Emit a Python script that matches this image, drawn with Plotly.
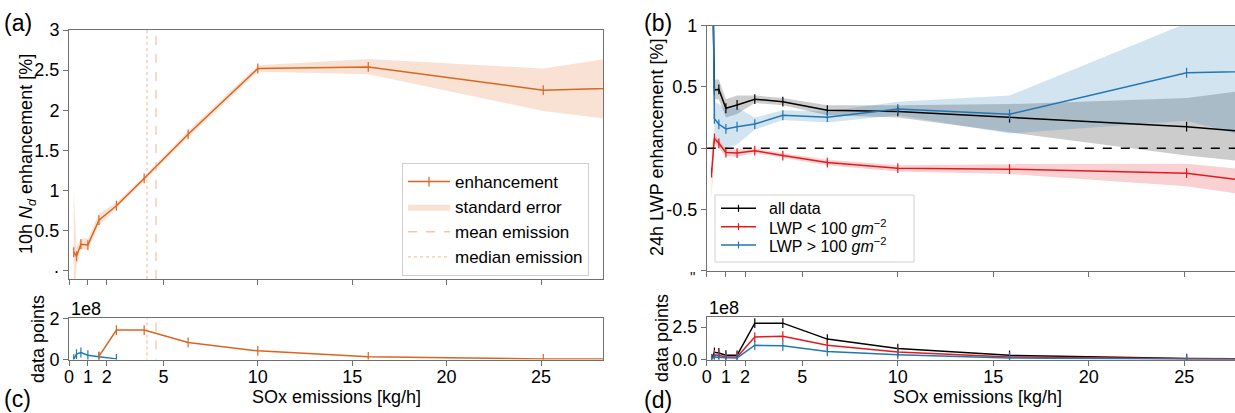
import plotly.graph_objects as go

# ---------------- data ----------------
# SOx emission bins [kg/h] (log-spaced bin centres)
SOX_BINS = [0.251, 0.398, 0.631, 1.0, 1.585, 2.512, 3.981, 6.310, 10.0, 15.85, 25.12, 39.81]

# (a) 10h Nd enhancement [%]
ND_ENH = [0.23, 0.18, 0.33, 0.32, 0.63, 0.81, 1.15, 1.70, 2.52, 2.54, 2.25, 2.35]
ND_LO = [-0.5, 0.05, 0.27, 0.26, 0.56, 0.77, 1.12, 1.66, 2.48, 2.45, 1.99, 1.56]
ND_HI = [1.0, 0.30, 0.40, 0.40, 0.71, 0.85, 1.18, 1.74, 2.56, 2.64, 2.52, 3.04]
MEAN_EMISSION = 4.61
MEDIAN_EMISSION = 4.13

# (c) data points (x1e8)
C_ORANGE = [None, None, None, None, 0.15, 1.43, 1.43, 0.83, 0.42, 0.13, 0.03, 0.01]
C_BLUE = [0.02, 0.26, 0.34, 0.21, 0.13, 0.03, None, None, None, None, None, None]

# (b) 24h LWP enhancement [%]
ALL = [2.0, 0.475, 0.48, 0.326, 0.353, 0.40, 0.38, 0.31, 0.30, 0.25, 0.176, -0.016]
ALL_LO = [1.2, 0.40, 0.40, 0.25, 0.28, 0.37, 0.35, 0.27, 0.25, 0.13, -0.06, -0.29]
ALL_HI = [2.8, 0.56, 0.56, 0.40, 0.43, 0.43, 0.41, 0.35, 0.35, 0.36, 0.41, 0.70]
LOW = [-0.2, 0.08, 0.04, -0.035, -0.04, -0.02, -0.06, -0.117, -0.163, -0.171, -0.204, -0.489]
LOW_LO = [-0.42, 0.04, 0.0, -0.065, -0.07, -0.04, -0.08, -0.14, -0.19, -0.21, -0.31, -0.64]
LOW_HI = [0.02, 0.11, 0.07, -0.005, -0.01, 0.0, -0.04, -0.095, -0.14, -0.13, -0.126, -0.36]
HIGH = [2.5, 0.24, 0.195, 0.157, 0.175, 0.197, 0.269, 0.253, 0.32, 0.277, 0.616, 0.665]
HIGH_LO = [1.5, 0.08, 0.03, 0.0, 0.03, 0.15, 0.23, 0.21, 0.27, 0.12, 0.225, -0.38]
HIGH_HI = [3.5, 0.38, 0.36, 0.32, 0.33, 0.25, 0.31, 0.30, 0.38, 0.43, 1.02, 1.5]

# (d) data points (x1e8)
D_ALL = [0.05, 0.55, 0.50, 0.33, 0.32, 2.80, 2.80, 1.57, 0.84, 0.32, 0.07, 0.02]
D_LOW = [0.03, 0.35, 0.32, 0.20, 0.20, 1.73, 1.79, 1.10, 0.58, 0.20, 0.05, 0.01]
D_HIGH = [0.02, 0.20, 0.18, 0.13, 0.12, 1.10, 1.05, 0.62, 0.37, 0.12, 0.02, 0.01]

X_TICKS = [0, 1, 2, 5, 10, 15, 20, 25]
SCALE = 1e8

LEGEND_B_LABELS = ["all data", "LWP &lt; 100 <i>gm</i><sup>−2</sup>", "LWP &gt; 100 <i>gm</i><sup>−2</sup>"]

# ---------------- styles ----------------
FONT = "Liberation Sans, Arial, sans-serif"
ORANGE = "#d9651f"
ORANGE_BAND = "rgba(226,110,40,0.2)"
ORANGE_LIGHT = "rgba(235,140,85,0.5)"
BLUE = "#1f77b4"
RED = "#e31a1c"
BLACK = "#000000"
SPINE = "#707070"
W, H = 1235, 413


def px_x(p):
    return p / W


def px_y(p):
    return 1 - p / H


def scaled(v):
    return [None if a is None else a * SCALE for a in v]


def band(x, lo, hi, color, xa, ya, name=None, legend=False):
    return go.Scatter(
        x=list(x) + list(x)[::-1], y=list(hi) + list(lo)[::-1],
        fill="toself", fillcolor=color, line=dict(width=0),
        mode="lines", name=name, showlegend=legend,
        hoverinfo="skip", xaxis=xa, yaxis=ya)


def line(x, y, color, xa, ya, name=None, legend=False, width=1.5):
    return go.Scatter(
        x=x, y=y, mode="lines+markers", name=name, showlegend=legend,
        line=dict(color=color, width=width),
        marker=dict(symbol="line-ns-open", size=7, line=dict(color=color, width=1.2)),
        xaxis=xa, yaxis=ya)


fig = go.Figure()

# (a)
fig.add_trace(line(SOX_BINS, ND_ENH, ORANGE, "x", "y", "enhancement", True))
fig.add_trace(band(SOX_BINS, ND_LO, ND_HI, ORANGE_BAND, "x", "y", "standard error", True))
fig.add_trace(go.Scatter(x=[MEAN_EMISSION, MEAN_EMISSION], y=[-1, 4], mode="lines",
                         name="mean emission", line=dict(color=ORANGE_LIGHT, width=1.3, dash="dash"),
                         xaxis="x", yaxis="y"))
fig.add_trace(go.Scatter(x=[MEDIAN_EMISSION, MEDIAN_EMISSION], y=[-1, 4], mode="lines",
                         name="median emission", line=dict(color=ORANGE_LIGHT, width=1.3, dash="dot"),
                         xaxis="x", yaxis="y"))

# (c)
fig.add_trace(go.Scatter(x=[MEAN_EMISSION, MEAN_EMISSION], y=[-1e9, 1e9], mode="lines", showlegend=False,
                         line=dict(color=ORANGE_LIGHT, width=1.3, dash="dash"), xaxis="x3", yaxis="y3"))
fig.add_trace(go.Scatter(x=[MEDIAN_EMISSION, MEDIAN_EMISSION], y=[-1e9, 1e9], mode="lines", showlegend=False,
                         line=dict(color=ORANGE_LIGHT, width=1.3, dash="dot"), xaxis="x3", yaxis="y3"))
fig.add_trace(line(SOX_BINS, scaled(C_BLUE), BLUE, "x3", "y3"))
fig.add_trace(line(SOX_BINS, scaled(C_ORANGE), ORANGE, "x3", "y3"))

# (b)
fig.add_trace(band(SOX_BINS, ALL_LO, ALL_HI, "rgba(0,0,0,0.2)", "x2", "y2"))
fig.add_trace(band(SOX_BINS, LOW_LO, LOW_HI, "rgba(227,26,28,0.2)", "x2", "y2"))
fig.add_trace(band(SOX_BINS, HIGH_LO, HIGH_HI, "rgba(31,119,180,0.2)", "x2", "y2"))
fig.add_trace(line(SOX_BINS, ALL, BLACK, "x2", "y2"))
fig.add_trace(line(SOX_BINS, LOW, RED, "x2", "y2"))
fig.add_trace(line(SOX_BINS, HIGH, BLUE, "x2", "y2"))

# (d)
fig.add_trace(line(SOX_BINS, scaled(D_ALL), BLACK, "x4", "y4"))
fig.add_trace(line(SOX_BINS, scaled(D_LOW), RED, "x4", "y4"))
fig.add_trace(line(SOX_BINS, scaled(D_HIGH), BLUE, "x4", "y4"))

# ---------------- layout ----------------
L_DOM = [px_x(69), px_x(603.3)]
R_DOM = [px_x(706.8), 1.0]
L_RANGE = [0, 28.3]
R_RANGE = [0, (W - 706.8) / 19.1]

axis_common = dict(showline=True, linecolor=SPINE, linewidth=1, ticks="outside", ticklen=5,
                   tickwidth=1, tickcolor=SPINE, showgrid=False, zeroline=False,
                   tickfont=dict(family=FONT, size=18, color="black"))

fig.update_layout(
    width=W, height=H, autosize=False,
    margin=dict(l=0, r=0, t=0, b=0, autoexpand=False),
    paper_bgcolor="white", plot_bgcolor="white",
    font=dict(family=FONT, size=18, color="black"),
    xaxis=dict(domain=L_DOM, range=L_RANGE, anchor="y", mirror=True, tickvals=X_TICKS,
               showticklabels=False, **axis_common),
    yaxis=dict(domain=[px_y(279.3), px_y(30)], range=[-0.107, 3], anchor="x", mirror=True,
               tickvals=[0, 0.5, 1, 1.5, 2, 2.5, 3],
               ticktext=["·", "0.5", "1", "1.5", "2", "2.5", "3"], **axis_common),
    xaxis3=dict(domain=L_DOM, range=L_RANGE, anchor="y3", mirror=True, tickvals=X_TICKS,
                ticklabelstandoff=-4, **axis_common),
    yaxis3=dict(domain=[px_y(359.5), px_y(318.3)], range=[0, 2 * SCALE], anchor="x3", mirror=True,
                tickvals=[0, 2 * SCALE], ticktext=["0", "2"], **axis_common),
    xaxis2=dict(domain=R_DOM, range=R_RANGE, anchor="y2", mirror=True, tickvals=X_TICKS,
                showticklabels=False, **axis_common),
    yaxis2=dict(domain=[px_y(270.7), px_y(25.7)], range=[-1, 1], anchor="x2", mirror=False,
                tickvals=[-1, -0.5, 0, 0.5, 1], ticktext=["", "-0.5", "0", "0.5", "1"],
                **axis_common),
    xaxis4=dict(domain=R_DOM, range=R_RANGE, anchor="y4", mirror=True, tickvals=X_TICKS,
                ticklabelstandoff=-4, **axis_common),
    yaxis4=dict(domain=[px_y(359.5), px_y(317.3)], range=[0, 3.25 * SCALE], anchor="x4", mirror=False,
                tickvals=[0, 2.5 * SCALE], ticktext=["0.0", "2.5"], **axis_common),
    legend=dict(x=px_x(402), y=px_y(163), xanchor="left", yanchor="top", itemwidth=42,
                bgcolor="rgba(255,255,255,0.85)", bordercolor="#d0d0d0", borderwidth=1,
                font=dict(family=FONT, size=17, color="black"), tracegroupgap=0),
    showlegend=True,
)

shapes = []
# zero reference line in (b)
shapes.append(dict(type="line", xref="x2 domain", yref="y2", x0=0, x1=1, y0=0, y1=0,
                   line=dict(color="black", width=1.5, dash="dash"), layer="above"))
# legend box for (b)
shapes.append(dict(type="rect", xref="paper", yref="paper", x0=px_x(715), x1=px_x(914),
                   y0=px_y(262), y1=px_y(195), fillcolor="rgba(255,255,255,0.85)",
                   line=dict(color="#d0d0d0", width=1), layer="above"))
ann = []
for lab, col, yy in zip(LEGEND_B_LABELS, [BLACK, RED, BLUE], [208.3, 226.7, 245]):
    shapes.append(dict(type="line", xref="paper", yref="paper", x0=px_x(721), x1=px_x(756),
                       y0=px_y(yy), y1=px_y(yy), line=dict(color=col, width=1.5), layer="above"))
    shapes.append(dict(type="line", xref="paper", yref="paper", x0=px_x(738.5), x1=px_x(738.5),
                       y0=px_y(yy - 3.5), y1=px_y(yy + 3.5), line=dict(color=col, width=1.2), layer="above"))
    ann.append(dict(text=lab, x=px_x(767), y=px_y(yy), xref="paper", yref="paper",
                    xanchor="left", yanchor="middle", showarrow=False,
                    font=dict(family=FONT, size=16, color="black")))

# panel labels
for txt, xp, yp in [("(a)", 2, 23), ("(b)", 642, 23), ("(c)", 2, 399), ("(d)", 642, 400)]:
    ann.append(dict(text=txt, x=px_x(xp), y=px_y(yp), xref="paper", yref="paper",
                    xanchor="left", yanchor="middle", showarrow=False,
                    font=dict(family=FONT, size=23, color="black")))
# axis titles
ann.append(dict(text="SOx emissions [kg/h]", x=px_x((69 + 603.3) / 2), y=px_y(397), xref="paper",
                yref="paper", xanchor="center", yanchor="middle", showarrow=False,
                font=dict(family=FONT, size=18)))
ann.append(dict(text="SOx emissions [kg/h]", x=px_x(706.8 + 28.3 * 19.1 / 2), y=px_y(397), xref="paper",
                yref="paper", xanchor="center", yanchor="middle", showarrow=False,
                font=dict(family=FONT, size=18)))
ann.append(dict(text="10h <i>N<sub>d</sub></i> enhancement [%]", x=px_x(27), y=px_y(154),
                xref="paper", yref="paper", xanchor="center", yanchor="middle", textangle=-90,
                showarrow=False, font=dict(family=FONT, size=18)))
ann.append(dict(text="24h LWP enhancement [%]", x=px_x(657), y=px_y(148),
                xref="paper", yref="paper", xanchor="center", yanchor="middle", textangle=-90,
                showarrow=False, font=dict(family=FONT, size=18)))
ann.append(dict(text="data points", x=px_x(38), y=px_y(339), xref="paper", yref="paper",
                xanchor="center", yanchor="middle", textangle=-90, showarrow=False,
                font=dict(family=FONT, size=18)))
ann.append(dict(text="data points", x=px_x(662), y=px_y(338), xref="paper", yref="paper",
                xanchor="center", yanchor="middle", textangle=-90, showarrow=False,
                font=dict(family=FONT, size=18)))
# offset texts
ann.append(dict(text="1e8", x=0, y=1, xref="x3 domain", yref="y3 domain", xanchor="left",
                yanchor="bottom", yshift=-3, showarrow=False, font=dict(family=FONT, size=18)))
ann.append(dict(text="1e8", x=0, y=1, xref="x4 domain", yref="y4 domain", xanchor="left",
                yanchor="bottom", yshift=-3, showarrow=False, font=dict(family=FONT, size=18)))
# clipped tick label remnant at -1 in (b)
ann.append(dict(text="''", x=0, y=-1, xref="x2 domain", yref="y2", xanchor="right",
                yanchor="middle", xshift=-10, yshift=-6, showarrow=False, font=dict(family=FONT, size=14)))
fig.update_layout(annotations=ann, shapes=shapes)

fig.write_html("out.html", config={"displayModeBar": False},
               post_script="document.body.style.margin='0';document.body.style.overflow='hidden';")
